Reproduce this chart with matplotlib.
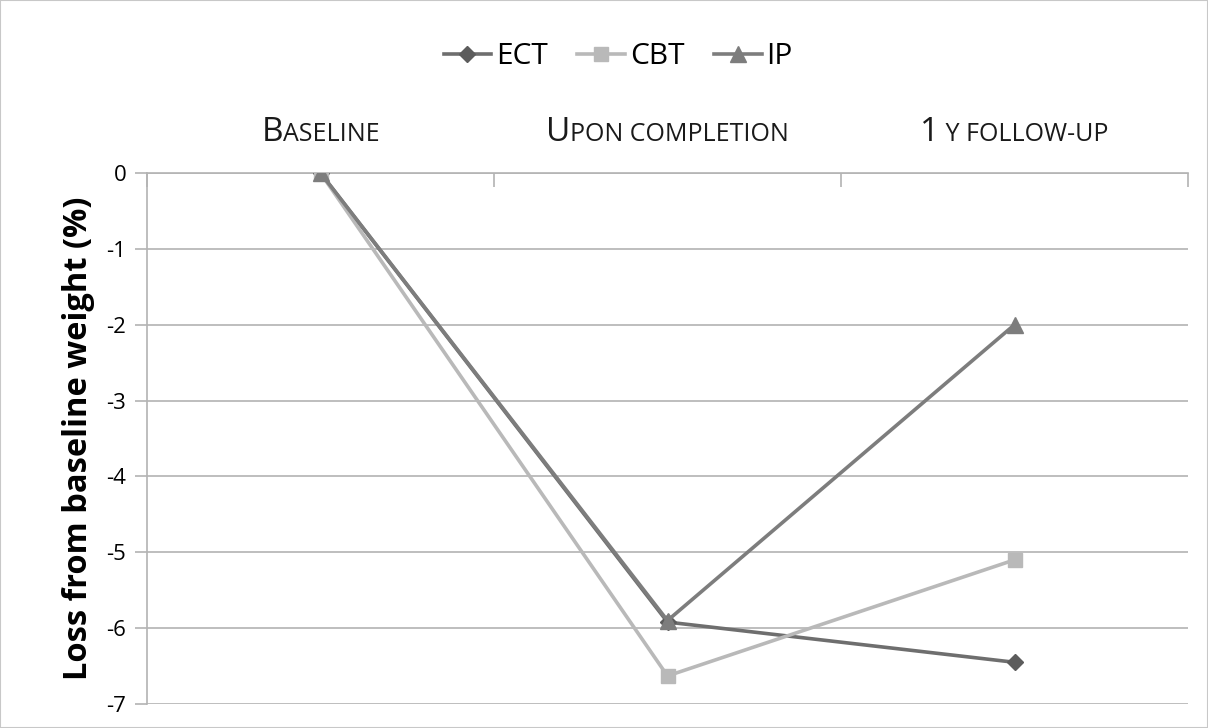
import matplotlib
matplotlib.use("Agg")
import matplotlib.pyplot as plt
from matplotlib.transforms import blended_transform_factory, offset_copy
from matplotlib.patches import Rectangle

# ---- data ----
categories = [("B", "ASELINE"), ("U", "PON COMPLETION"), ("1", " Y FOLLOW-UP")]
series_names = ["ECT", "CBT", "IP"]
ect = [0.0, -5.92, -6.45]
cbt = [0.0, -6.63, -5.10]
ip = [0.0, -5.90, -2.00]
y_ticks = [0, -1, -2, -3, -4, -5, -6, -7]
y_label = "Loss from baseline weight (%)"

FONT = "Open Sans"
plt.rcParams['font.family'] = [FONT, 'DejaVu Sans']

fig = plt.figure(figsize=(12.08, 7.28), dpi=100)
fig.patches.append(Rectangle((0, 0), 1, 1, transform=fig.transFigure, fill=False,
                             edgecolor="#c8c8c8", linewidth=1.5))
ax = fig.add_axes([147/1208, 1 - 704/728, (1188-147)/1208, (704-173)/728])

x = list(range(len(categories)))
styles = [
    (ect, "#6e6e6e", "D", "#5c5c5c", 8.5),
    (cbt, "#b9b9b9", "s", "#b9b9b9", 9.5),
    (ip, "#7d7d7d", "^", "#7d7d7d", 11),
]
handles = []
for (vals, c, m, mc, ms), name in zip(styles, series_names):
    h, = ax.plot(x, vals, color=c, lw=2.6, marker=m, markersize=ms,
                 markerfacecolor=mc, markeredgecolor=mc, label=name, zorder=3)
    handles.append(h)

ax.set_xlim(-0.5, len(categories) - 0.5)
ax.set_ylim(-7, 0)
ax.set_yticks(y_ticks)
ax.set_yticklabels([str(v) for v in y_ticks], fontsize=16)
ax.yaxis.grid(True, color="#b3b3b3", lw=1.2)
ax.set_axisbelow(True)
for s in ["right", "bottom"]:
    ax.spines[s].set_visible(False)
ax.spines["left"].set_color("#b3b3b3")
ax.spines["top"].set_color("#b3b3b3")
ax.spines["left"].set_linewidth(1.2)
ax.spines["top"].set_linewidth(1.2)
ax.tick_params(axis="y", direction="out", length=9, color="#b3b3b3", width=1.2, pad=6)
ax.xaxis.tick_top()
ax.set_xticks([i - 0.5 for i in range(len(categories) + 1)])
ax.set_xticklabels([])
ax.tick_params(axis="x", direction="in", length=10, color="#b3b3b3", width=1.2)
ax.set_ylabel(y_label, fontsize=23.5, fontweight="bold", labelpad=8)

# small caps category labels
fig.canvas.draw()
renderer = fig.canvas.get_renderer()
base = blended_transform_factory(ax.transData, ax.transAxes)
big, small = 24, 18
for i, (first, rest) in enumerate(categories):
    pieces = []
    for txt, fs in [(first, big), (rest, small)]:
        t = ax.text(i, 1.0, txt, fontsize=fs, ha="left", va="baseline",
                    transform=base, color="#1a1a1a")
        pieces.append(t)
    widths = [p.get_window_extent(renderer).width for p in pieces]
    W = sum(widths)
    cum = -W / 2
    for p, w in zip(pieces, widths):
        p.set_transform(offset_copy(base, fig=fig, x=cum, y=32, units="dots"))
        cum += w

fig.legend(handles=handles, labels=series_names, loc="center", ncol=3,
           bbox_to_anchor=(618/1208, 1 - 57/728), frameon=False, fontsize=21.5,
           handlelength=1.6, handletextpad=0.15, columnspacing=1.0)

fig.savefig("out.png", dpi=100)
